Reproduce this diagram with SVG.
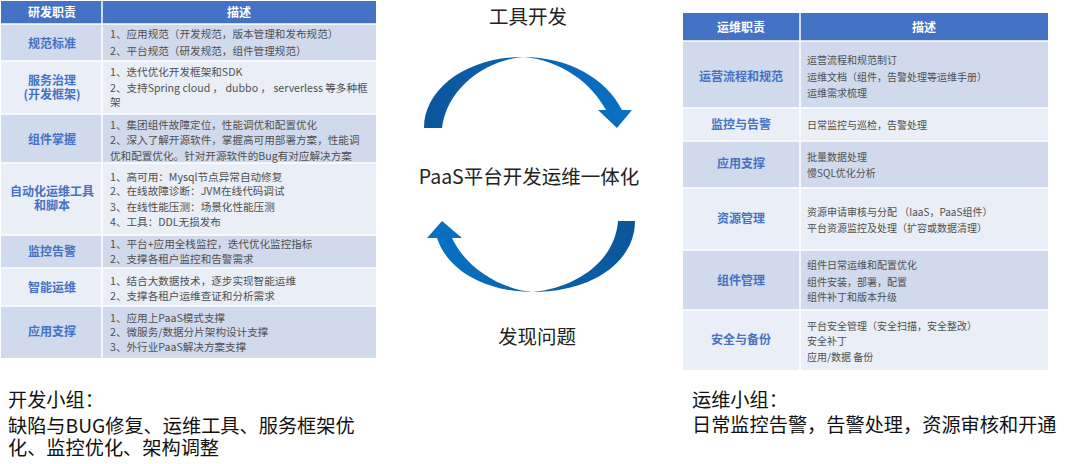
<svg xmlns="http://www.w3.org/2000/svg" width="1080" height="464" viewBox="0 0 1080 464">
<defs>
<style>
text{font-family:"Noto Sans CJK SC","Microsoft YaHei",sans-serif;}
.hd{fill:#4472C4;}
.dk{fill:#D0DAEC;}
.lt{fill:#E9EEF7;}
.sep{stroke:#FFFFFF;stroke-width:1.5;}
.ht{fill:#FFFFFF;font-size:12px;font-weight:bold;text-anchor:middle;}
.lb{fill:#4472C4;font-size:12px;font-weight:bold;text-anchor:middle;}
.ds{fill:#505050;font-size:10.6px;}
.ds2{fill:#505050;font-size:10px;}
.big{fill:#222222;font-size:19.5px;}
.bt{fill:#111111;font-size:19.2px;}
</style>
<linearGradient id="gTop" x1="424" y1="0" x2="632" y2="0" gradientUnits="userSpaceOnUse">
<stop offset="0" stop-color="#0D559C"/>
<stop offset="1" stop-color="#0872C4"/>
</linearGradient>
<linearGradient id="gBot" x1="635" y1="0" x2="427" y2="0" gradientUnits="userSpaceOnUse">
<stop offset="0" stop-color="#0B5699"/>
<stop offset="1" stop-color="#0872C4"/>
</linearGradient>
</defs>
<rect x="0" y="0" width="1080" height="464" fill="#FFFFFF"/>

<!-- Left table -->
<g id="dev-table">
<rect class="hd" x="1" y="1" width="375" height="23"/>
<rect class="dk" x="1" y="24" width="375" height="37"/>
<rect class="lt" x="1" y="61" width="375" height="53"/>
<rect class="dk" x="1" y="114" width="375" height="49"/>
<rect class="lt" x="1" y="163" width="375" height="72"/>
<rect class="dk" x="1" y="235" width="375" height="33"/>
<rect class="lt" x="1" y="268" width="375" height="38"/>
<rect class="dk" x="1" y="306" width="375" height="52"/>
<g class="sep">
<line x1="102" y1="1" x2="102" y2="358"/>
<line x1="1" y1="24" x2="376" y2="24"/>
<line x1="1" y1="61" x2="376" y2="61"/>
<line x1="1" y1="114" x2="376" y2="114"/>
<line x1="1" y1="163" x2="376" y2="163"/>
<line x1="1" y1="235" x2="376" y2="235"/>
<line x1="1" y1="268" x2="376" y2="268"/>
<line x1="1" y1="306" x2="376" y2="306"/>
</g>
<text class="ht" x="52" y="17">研发职责</text>
<text class="ht" x="239" y="17">描述</text>
</g>

<g id="dev-row-guifan">
<text class="lb" x="52" y="48">规范标准</text>
<text class="ds" x="110" y="38">1、应用规范（开发规范，版本管理和发布规范）<tspan x="110" dy="17">2、平台规范（研发规范，组件管理规范）</tspan></text>
</g>
<g id="dev-row-fuwu">
<text class="lb" x="52" y="85">服务治理<tspan x="52" dy="14">(开发框架)</tspan></text>
<text class="ds" x="110" y="76">1、迭代优化开发框架和SDK<tspan x="110" dy="16">2、支持Spring cloud ， dubbo ， serverless 等多种框</tspan><tspan x="110" dy="14">架</tspan></text>
</g>
<g id="dev-row-zujian">
<text class="lb" x="52" y="144">组件掌握</text>
<text class="ds" x="110" y="129">1、集团组件故障定位，性能调优和配置优化<tspan x="110" dy="15">2、深入了解开源软件，掌握高可用部署方案，性能调</tspan><tspan x="110" dy="16">优和配置优化。针对开源软件的Bug有对应解决方案</tspan></text>
</g>
<g id="dev-row-auto">
<text class="lb" x="52" y="196">自动化运维工具<tspan x="52" dy="14">和脚本</tspan></text>
<text class="ds" x="110" y="181">1、高可用：Mysql节点异常自动修复<tspan x="110" dy="14">2、在线故障诊断：JVM在线代码调试</tspan><tspan x="110" dy="16">3、在线性能压测：场景化性能压测</tspan><tspan x="110" dy="15">4、工具：DDL无损发布</tspan></text>
</g>
<g id="dev-row-jiankong">
<text class="lb" x="52" y="256">监控告警</text>
<text class="ds" x="110" y="248">1、平台+应用全栈监控，迭代优化监控指标<tspan x="110" dy="15">2、支撑各租户监控和告警需求</tspan></text>
</g>
<g id="dev-row-zhineng">
<text class="lb" x="52" y="292">智能运维</text>
<text class="ds" x="110" y="285">1、结合大数据技术，逐步实现智能运维<tspan x="110" dy="15">2、支撑各租户运维查证和分析需求</tspan></text>
</g>
<g id="dev-row-yingyong">
<text class="lb" x="52" y="336">应用支撑</text>
<text class="ds" x="110" y="322">1、应用上PaaS模式支撑<tspan x="110" dy="14">2、微服务/数据分片架构设计支撑</tspan><tspan x="110" dy="15">3、外行业PaaS解决方案支撑</tspan></text>
</g>

<!-- Right table -->
<g id="ops-table">
<rect class="hd" x="683" y="13" width="365" height="28"/>
<rect class="dk" x="683" y="41" width="365" height="67"/>
<rect class="lt" x="683" y="108" width="365" height="33"/>
<rect class="dk" x="683" y="141" width="365" height="47"/>
<rect class="lt" x="683" y="188" width="365" height="62"/>
<rect class="dk" x="683" y="250" width="365" height="60"/>
<rect class="lt" x="683" y="310" width="365" height="60"/>
<g class="sep">
<line x1="800" y1="13" x2="800" y2="370"/>
<line x1="683" y1="41" x2="1048" y2="41"/>
<line x1="683" y1="108" x2="1048" y2="108"/>
<line x1="683" y1="141" x2="1048" y2="141"/>
<line x1="683" y1="188" x2="1048" y2="188"/>
<line x1="683" y1="250" x2="1048" y2="250"/>
<line x1="683" y1="310" x2="1048" y2="310"/>
</g>
<text class="ht" x="741" y="32">运维职责</text>
<text class="ht" x="924" y="32">描述</text>
</g>

<g id="ops-row-yunying">
<text class="lb" x="741" y="81">运营流程和规范</text>
<text class="ds2" x="807" y="64">运营流程和规范制订<tspan x="807" dy="17">运维文档（组件，告警处理等运维手册）</tspan><tspan x="807" dy="16">运维需求梳理</tspan></text>
</g>
<g id="ops-row-jiankong">
<text class="lb" x="741" y="129">监控与告警</text>
<text class="ds2" x="807" y="129">日常监控与巡检，告警处理</text>
</g>
<g id="ops-row-yingyong">
<text class="lb" x="741" y="168">应用支撑</text>
<text class="ds2" x="807" y="161">批量数据处理<tspan x="807" dy="16">慢SQL优化分析</tspan></text>
</g>
<g id="ops-row-ziyuan">
<text class="lb" x="741" y="223">资源管理</text>
<text class="ds2" x="807" y="216">资源申请审核与分配 （IaaS，PaaS组件）<tspan x="807" dy="16">平台资源监控及处理（扩容或数据清理）</tspan></text>
</g>
<g id="ops-row-zujian">
<text class="lb" x="741" y="285">组件管理</text>
<text class="ds2" x="807" y="269">组件日常运维和配置优化<tspan x="807" dy="17">组件安装，部署，配置</tspan><tspan x="807" dy="15">组件补丁和版本升级</tspan></text>
</g>
<g id="ops-row-anquan">
<text class="lb" x="741" y="344">安全与备份</text>
<text class="ds2" x="807" y="330">平台安全管理（安全扫描，安全整改）<tspan x="807" dy="15">安全补丁</tspan><tspan x="807" dy="16">应用/数据 备份</tspan></text>
</g>

<!-- Center -->
<g id="label-tools">
<text class="big" x="528" y="24" text-anchor="middle">工具开发</text>
</g>
<g id="label-center">
<text class="big" x="529" y="184" text-anchor="middle">PaaS平台开发运维一体化</text>
</g>
<g id="label-issues">
<text class="big" x="537" y="344" text-anchor="middle">发现问题</text>
</g>

<g id="connectors">
<path fill="url(#gTop)" d="M424,128 C424,88 468,57 523,57 C568,57 606,78 622,110 L632,110 L617,128 L598,110 L606,110 C592,84 562,60 523,57 C486,60 447,88 442,128 Z"/>
<path fill="url(#gBot)" d="M635,221 C635,262 592,292 533,292 C488,292 448,272 437,238 L427,238 L442,221 L462,238 L452,238 C466,268 500,289 533,292 C575,288 615,262 618,221 Z"/>
</g>

<!-- Bottom notes -->
<g id="note-dev">
<text class="bt" x="8" y="407">开发小组：<tspan x="8" dy="26">缺陷与BUG修复、运维工具、服务框架优</tspan><tspan x="8" dy="22">化、监控优化、架构调整</tspan></text>
</g>
<g id="note-ops">
<text class="bt" x="692" y="407">运维小组：<tspan x="692" dy="25">日常监控告警，告警处理，资源审核和开通</tspan></text>
</g>
</svg>
